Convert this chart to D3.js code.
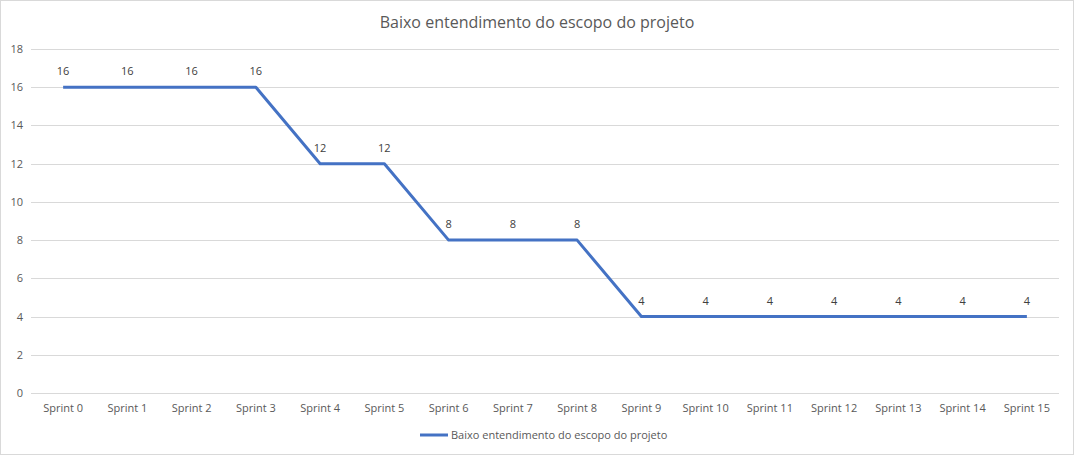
<!DOCTYPE html>
<html>
<head>
<meta charset="utf-8">
<script src="https://cdn.jsdelivr.net/npm/d3@7"></script>
<style>
  body { margin: 0; background: #fff; }
  text { font-family: "Open Sans", "Liberation Sans", sans-serif; }
</style>
</head>
<body>
<svg width="1074" height="455"></svg>
<script>
// data
var sprints = ["Sprint 0", "Sprint 1", "Sprint 2", "Sprint 3", "Sprint 4", "Sprint 5", "Sprint 6", "Sprint 7",
  "Sprint 8", "Sprint 9", "Sprint 10", "Sprint 11", "Sprint 12", "Sprint 13", "Sprint 14", "Sprint 15"];
var values = [16, 16, 16, 16, 12, 12, 8, 8, 8, 4, 4, 4, 4, 4, 4, 4];
var yTicks = [0, 2, 4, 6, 8, 10, 12, 14, 16, 18];
var seriesName = "Baixo entendimento do escopo do projeto";

var svg = d3.select("svg"),
    width = +svg.attr("width"),
    height = +svg.attr("height");

// chart border
svg.append("rect")
  .attr("x", 0.5).attr("y", 0.5)
  .attr("width", width - 1).attr("height", height - 1)
  .attr("fill", "#fff").attr("stroke", "#d9d9d9");

var x = d3.scaleBand().domain(sprints).range([31, 1059]);
var y = d3.scaleLinear().domain([0, 18]).range([393, 49]);

// title
svg.append("text")
  .attr("x", width / 2).attr("y", 28)
  .attr("text-anchor", "middle")
  .attr("font-size", 16)
  .attr("fill", "#595959")
  .text(seriesName);

// gridlines
svg.append("g")
  .selectAll("line")
  .data(yTicks)
  .enter().append("line")
  .attr("x1", 31).attr("x2", 1059)
  .attr("y1", function(d) { return Math.round(y(d)) + 0.5; })
  .attr("y2", function(d) { return Math.round(y(d)) + 0.5; })
  .attr("stroke", "#d9d9d9");

// y axis
var yAxis = svg.append("g")
  .attr("transform", "translate(23,0)")
  .call(d3.axisLeft(y).tickValues(yTicks).tickSize(0).tickPadding(0));
yAxis.select(".domain").remove();
yAxis.selectAll("text").attr("font-size", 11).attr("fill", "#595959")
  .style("font-family", "Open Sans, sans-serif");

// x axis
var xAxis = svg.append("g")
  .attr("transform", "translate(0,400)")
  .call(d3.axisBottom(x).tickSize(0).tickPadding(4));
xAxis.select(".domain").remove();
xAxis.selectAll("text").attr("font-size", 11).attr("fill", "#595959")
  .style("font-family", "Open Sans, sans-serif");

// line
var line = d3.line()
  .x(function(d, i) { return x(sprints[i]) + x.bandwidth() / 2; })
  .y(function(d) { return y(d); });

svg.append("path")
  .datum(values)
  .attr("d", line)
  .attr("fill", "none")
  .attr("stroke", "#4472c4")
  .attr("stroke-width", 3)
  .attr("stroke-linejoin", "round");

// data labels
svg.append("g")
  .selectAll("text")
  .data(values)
  .enter().append("text")
  .attr("x", function(d, i) { return x(sprints[i]) + x.bandwidth() / 2; })
  .attr("y", function(d) { return y(d) - 12; })
  .attr("text-anchor", "middle")
  .attr("font-size", 11)
  .attr("fill", "#404040")
  .text(function(d) { return d; });

// legend
var legend = svg.append("g").attr("transform", "translate(420,435)");
legend.append("line")
  .attr("x1", 0).attr("x2", 28).attr("y1", 0).attr("y2", 0)
  .attr("stroke", "#4472c4").attr("stroke-width", 3);
legend.append("text")
  .attr("x", 31).attr("y", 4)
  .attr("font-size", 11)
  .attr("fill", "#595959")
  .text(seriesName);
</script>
</body>
</html>
